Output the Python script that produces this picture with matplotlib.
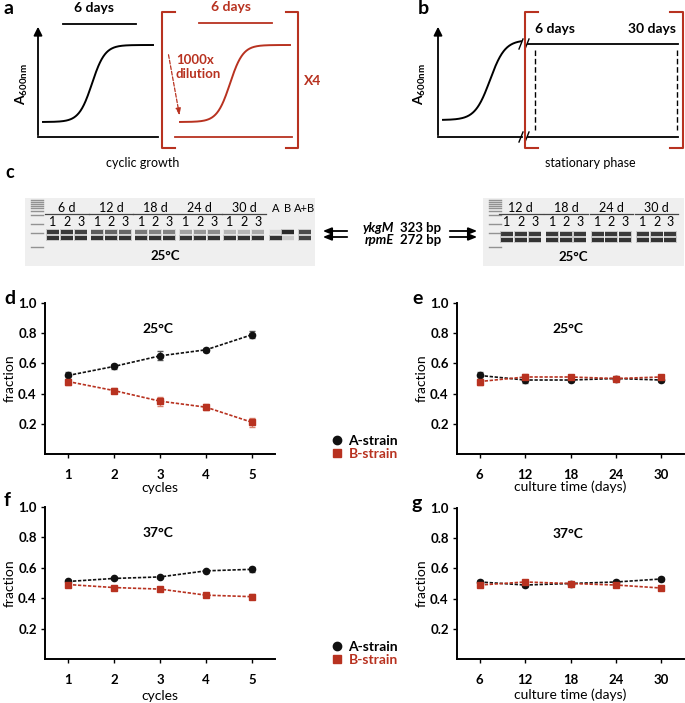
import numpy as np
import matplotlib
matplotlib.use("Agg")
import matplotlib.pyplot as plt
from matplotlib.patches import Rectangle
from matplotlib.lines import Line2D

plt.rcParams['font.family'] = ['Lato', 'DejaVu Sans']
plt.rcParams['mathtext.fontset'] = 'custom'
plt.rcParams['mathtext.rm'] = 'Lato:bold'
plt.rcParams['mathtext.it'] = 'Lato:bold'

RED = '#b83220'
W, H = 685, 703

# ---- data ----
cycles = [1, 2, 3, 4, 5]
days = [6, 12, 18, 24, 30]

# d: cyclic growth 25C
d_a = [0.52, 0.58, 0.65, 0.69, 0.79]
d_a_err = [0.02, 0.015, 0.03, 0.015, 0.025]
d_b = [0.48, 0.42, 0.35, 0.31, 0.21]
d_b_err = [0.02, 0.015, 0.03, 0.02, 0.03]

# e: stationary phase 25C
e_a = [0.52, 0.49, 0.49, 0.50, 0.49]
e_a_err = [0.02, 0.02, 0.01, 0.01, 0.01]
e_b = [0.48, 0.51, 0.51, 0.50, 0.51]
e_b_err = [0.02, 0.02, 0.015, 0.015, 0.01]

# f: cyclic growth 37C
f_a = [0.51, 0.53, 0.54, 0.58, 0.59]
f_a_err = [0.005, 0.005, 0.005, 0.005, 0.015]
f_b = [0.49, 0.47, 0.46, 0.42, 0.41]
f_b_err = [0.01, 0.005, 0.005, 0.01, 0.015]

# g: stationary phase 37C
g_a = [0.51, 0.49, 0.50, 0.51, 0.53]
g_a_err = [0.01, 0.01, 0.005, 0.01, 0.015]
g_b = [0.49, 0.51, 0.50, 0.49, 0.47]
g_b_err = [0.01, 0.01, 0.005, 0.01, 0.015]

# gel band intensities (upper = ykgM, lower = rpmE)
gel1_groups = ['6 d', '12 d', '18 d', '24 d', '30 d']
gel1_upper = [0.9, 0.9, 0.85, 0.7, 0.65, 0.65, 0.55, 0.5, 0.5, 0.35, 0.4, 0.45, 0.25, 0.25, 0.3]
gel1_lower = [0.95] * 15
ctrl_labels = ['A', 'B', 'A+B']
ctrl_upper = [0.1, 1.0, 0.8]
ctrl_lower = [0.95, 0.15, 0.85]
gel2_groups = ['12 d', '18 d', '24 d', '30 d']
gel2_upper = [0.9] * 12
gel2_lower = [0.95] * 12

fig = plt.figure(figsize=(W / 100, H / 100), dpi=100)
ov = fig.add_axes([0, 0, 1, 1], zorder=0)
ov.set_xlim(0, W)
ov.set_ylim(H, 0)
ov.axis('off')


def txt(x, y, s, **kw):
    kw.setdefault('ha', 'center')
    kw.setdefault('va', 'center')
    kw.setdefault('fontsize', 9.5)
    kw.setdefault('fontweight', 'bold')
    ov.text(x, y, s, **kw)


def sigmoid(x0, x1, xm, s, ybot, ytop, color):
    x = np.linspace(x0, x1, 200)
    y = ybot + (ytop - ybot) / (1 + np.exp(-(x - xm) / s))
    ov.plot(x, y, color=color, lw=1.4)


# ---- panel a ----
txt(4, 8, 'a', fontsize=14, ha='left')
txt(94, 8, '6 days', fontsize=10)
ov.plot([63, 136], [24, 24], color='k', lw=1.3)
ov.annotate('', xy=(38, 24), xytext=(38, 138),
            arrowprops=dict(arrowstyle='-|>,head_width=0.25,head_length=0.5', color='k', lw=1.3))
ov.plot([38, 158], [137, 137], color='k', lw=1.3)
sigmoid(43, 153, 92, 6.5, 122, 45, 'k')
txt(22, 84, r'$\mathrm{A_{600nm}}$', rotation=90, fontsize=10)

ov.plot([175, 162, 162, 175], [12, 12, 148, 148], color=RED, lw=1.5)
ov.plot([286, 298, 298, 286], [12, 12, 148, 148], color=RED, lw=1.5)
txt(231, 7, '6 days', color=RED, fontsize=10)
ov.plot([199, 272], [23, 23], color=RED, lw=1.3)
sigmoid(180, 290, 230, 6.5, 122, 45, RED)
ov.plot([175, 292], [137, 137], color=RED, lw=1.3)
ov.annotate('', xy=(180, 118), xytext=(168, 52),
            arrowprops=dict(arrowstyle='-|>,head_width=0.15,head_length=0.4', color=RED, lw=0.9, ls=(0, (3, 1.5))))
txt(176, 67, '1000x\ndilution', color=RED, ha='left', fontsize=9.5, linespacing=1.15)
txt(313, 81, 'X4', color=RED, fontsize=10)
txt(143, 163, 'cyclic growth', fontsize=9, fontweight='normal')

# ---- panel b ----
txt(418, 8, 'b', fontsize=14, ha='left')
ov.annotate('', xy=(438, 24), xytext=(438, 138),
            arrowprops=dict(arrowstyle='-|>,head_width=0.25,head_length=0.5', color='k', lw=1.3))
ov.plot([438, 522], [137, 137], color='k', lw=1.3)
ov.plot([528, 678], [137, 137], color='k', lw=1.3)
ov.plot([528, 678], [44, 44], color='k', lw=1.3)
sigmoid(443, 521, 490, 7.5, 120, 40, 'k')
for yb in (44, 137):
    for xb in (521, 527):
        ov.plot([xb - 2, xb + 2], [yb + 5, yb - 5], color='k', lw=1)
ov.plot([538, 525, 525, 538], [12, 12, 148, 148], color=RED, lw=1.5)
ov.plot([670, 683, 683, 670], [12, 12, 148, 148], color=RED, lw=1.5)
ov.plot([535, 535], [50, 130], color='k', lw=1, ls=(0, (4, 2)))
ov.plot([677, 677], [50, 130], color='k', lw=1, ls=(0, (4, 2)))
txt(535, 29, '6 days', ha='left', fontsize=10)
txt(676, 29, '30 days', ha='right', fontsize=10)
txt(420, 84, r'$\mathrm{A_{600nm}}$', rotation=90, fontsize=10)
txt(590, 163, 'stationary phase', fontsize=9, fontweight='normal')

# ---- panel c: gels ----
txt(5, 173, 'c', fontsize=13, ha='left')


def band(x, y, inten):
    ov.add_patch(Rectangle((x - 6, y - 1.8), 12, 3.6, color='#1a1a1a', alpha=inten * 0.9, lw=0))
    ov.add_patch(Rectangle((x - 6.5, y - 2.6), 13, 5.2, color='#1a1a1a', alpha=inten * 0.2, lw=0))


def ladder(x, ys):
    for y in ys:
        ov.plot([x - 6, x + 6], [y, y], color='#555555', lw=1, alpha=0.6)


def gel(left, right, x0, gstep, lstep, groups, upper, lower, yu, yl):
    ov.add_patch(Rectangle((left, 198), right - left, 68, color='#efefef', lw=0))
    ladder(left + 12, [200, 202, 204, 206, 208, 211, 215, 224, 233, 247])
    for g, name in enumerate(groups):
        gx = x0 + g * gstep
        txt(gx + lstep, 208, name, fontsize=9, fontweight='normal')
        ov.plot([gx - 8, gx + 2 * lstep + 8], [214, 214], color='#444444', lw=0.9)
        for k in range(3):
            lx = gx + k * lstep
            txt(lx, 222, str(k + 1), fontsize=9, fontweight='normal')
            band(lx, yu, upper[3 * g + k])
            band(lx, yl, lower[3 * g + k])


gel(25, 315, 53, 44.25, 14, gel1_groups, gel1_upper, gel1_lower, 232, 238)
for i, lab in enumerate(ctrl_labels):
    cx = [276, 288, 305][i]
    txt(cx, 208, lab, fontsize=8, fontweight='normal')
    band(cx, 232, ctrl_upper[i])
    band(cx, 238, ctrl_lower[i])
txt(165, 256, '25°C', fontsize=9.5)

gel(483, 684, 507, 45.3, 13.8, gel2_groups, gel2_upper, gel2_lower, 234, 240)
txt(573, 257, '25°C', fontsize=9.5)

for yy in (231, 237):
    ov.annotate('', xy=(320, yy), xytext=(350, yy),
                arrowprops=dict(arrowstyle='-|>,head_width=0.2,head_length=0.5', color='k', lw=1.3))
    ov.annotate('', xy=(480, yy), xytext=(447, yy),
                arrowprops=dict(arrowstyle='-|>,head_width=0.2,head_length=0.5', color='k', lw=1.3))
txt(394, 228, 'ykgM', ha='right', fontsize=9.5, style='italic')
txt(394, 240, 'rpmE', ha='right', fontsize=9.5, style='italic')
txt(400, 228, '323 bp', ha='left', fontsize=9.5)
txt(400, 240, '272 bp', ha='left', fontsize=9.5)


# ---- panels d-g ----
def px_axes(l, t, r, b):
    return fig.add_axes([l / W, 1 - b / H, (r - l) / W, (b - t) / H], zorder=2)


def frac_plot(ax, x, a, aerr, b, berr, title, xlabel, xlim, ylab_x, xlab_y):
    ax.patch.set_alpha(0)
    ax.errorbar(x, a, yerr=aerr, color='#111111', ecolor='#555555', elinewidth=1, capsize=2.5,
                marker='o', ms=4.5, lw=1.2, ls=(0, (2, 1)))
    ax.errorbar(x, b, yerr=berr, color=RED, ecolor='#d9826f', elinewidth=1, capsize=2.5,
                marker='s', ms=4.5, lw=1.2, ls=(0, (2, 1)))
    ax.set_xlim(*xlim)
    ax.set_ylim(0, 1.0)
    ax.set_xticks(x)
    ax.set_yticks([0.2, 0.4, 0.6, 0.8, 1.0])
    ax.set_yticklabels(['0.2', '0.4', '0.6', '0.8', '1.0'])
    for sp in ('top', 'right'):
        ax.spines[sp].set_visible(False)
    for sp in ('left', 'bottom'):
        ax.spines[sp].set_linewidth(1.4)
    ax.tick_params(length=3, width=1, pad=3, labelsize=9.5)
    ax.tick_params(axis='x', pad=8)
    for lab in ax.get_xticklabels() + ax.get_yticklabels():
        lab.set_fontweight('bold')
    ax.set_ylabel('fraction', fontsize=10, va='center')
    ax.set_xlabel(xlabel, fontsize=10, va='center')
    ax.yaxis.set_label_coords(ylab_x, 0.5)
    ax.xaxis.set_label_coords(0.5, xlab_y)
    ax.text(0.49, 0.83, title, transform=ax.transAxes, ha='center', va='center',
            fontsize=10, fontweight='bold')


def strain_legend(ax, y):
    h = [Line2D([], [], color='#111111', marker='o', ms=6, ls='none'),
         Line2D([], [], color=RED, marker='s', ms=6, ls='none')]
    leg = ax.legend(h, ['A-strain', 'B-strain'], loc='upper left', frameon=False,
                    bbox_to_anchor=(322 / W, 1 - y / H), bbox_transform=fig.transFigure,
                    handlelength=1.1, handletextpad=0.3, labelspacing=0.1, borderpad=0,
                    prop={'weight': 'bold', 'size': 10})
    leg.get_texts()[1].set_color(RED)


ax_d = px_axes(45, 303, 275, 454)
frac_plot(ax_d, cycles, d_a, d_a_err, d_b, d_b_err, '25°C', 'cycles', (0.5, 5.5), -0.152, -0.225)
strain_legend(ax_d, 428)

ax_e = px_axes(457, 303, 684, 454)
frac_plot(ax_e, days, e_a, e_a_err, e_b, e_b_err, '25°C', 'culture time (days)', (3, 33), -0.154, -0.22)

ax_f = px_axes(45, 507, 275, 659)
frac_plot(ax_f, cycles, f_a, f_a_err, f_b, f_b_err, '37°C', 'cycles', (0.5, 5.5), -0.152, -0.243)
strain_legend(ax_f, 634)

ax_g = px_axes(457, 508, 684, 659)
frac_plot(ax_g, days, g_a, g_a_err, g_b, g_b_err, '37°C', 'culture time (days)', (3, 33), -0.154, -0.238)

txt(4, 298, 'd', fontsize=14, ha='left')
txt(412, 298, 'e', fontsize=14, ha='left')
txt(4, 500, 'f', fontsize=14, ha='left')
txt(412, 503, 'g', fontsize=14, ha='left')

fig.savefig('out.png', dpi=100)
